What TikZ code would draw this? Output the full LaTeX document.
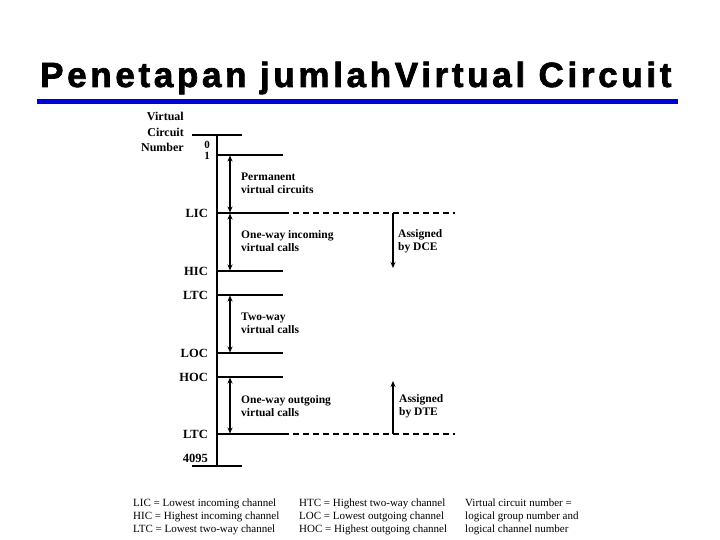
\documentclass[tikz,border=0pt]{standalone}
\usepackage{fontspec}
\setmainfont{Liberation Serif}
\newfontfamily\titlefont[LetterSpace=10.5,FakeBold=2]{Liberation Sans Bold}
\usetikzlibrary{arrows.meta, positioning}

\begin{document}
\begin{tikzpicture}[
    x=1pt, y=-1pt,
    axis/.style={line width=2.6pt},
    tick/.style={line width=1.6pt},
    guide/.style={line width=1.6pt, dash pattern=on 6pt off 4pt},
    span/.style={{Stealth[length=6pt,width=5pt]}-{Stealth[length=6pt,width=5pt]}, line width=1.3pt, shorten >=0.5pt, shorten <=0.5pt},
    assign/.style={-{Stealth[length=6pt,width=5pt]}, line width=1.3pt},
    num/.style={font=\bfseries\fontsize{12.5}{14}\selectfont, anchor=east, inner sep=0pt},
    desc/.style={font=\bfseries\fontsize{11.5}{13}\selectfont, align=left, anchor=west, inner sep=0pt},
    legend/.style={font=\fontsize{11}{13}\selectfont, align=left, anchor=base west, inner sep=0pt}
  ]
  \useasboundingbox (0,0) rectangle (720,540);

  % title and rule
  \node[anchor=base west, inner sep=0pt, font=\titlefont\fontsize{35}{40}\selectfont] (title) at (40,87) {Penetapan jumlahVirtual Circuit};
  \coordinate (ruleL) at (37,102);
  \coordinate (ruleR) at (678,102);
  \draw[line width=5pt, blue!85!black] (ruleL) -- (ruleR);

  % axis
  \coordinate (top) at (217,135);
  \coordinate (bot) at (217,466);
  \draw[axis] (top) -- (bot);
  \draw[tick] (192,135) -- (top) -- (242,135);
  \draw[tick] (192,466) -- (bot) -- (242,466);

  % channel levels
  \foreach \name/\y in {one/155, lic/213, hic/271, ltc/295, loc/353, hoc/377, htc/434} {
    \coordinate (\name) at (217,\y);
    \coordinate (\name-a) at (230,\y);
    \coordinate (\name-e) at (283,\y);
    \draw[tick] (\name) -- (\name-e);
  }
  \coordinate (lic-d) at (455,213);
  \coordinate (htc-d) at (455,434);
  \draw[guide] (lic-e) -- (lic-d);
  \draw[guide] (htc-e) -- (htc-d);

  % labels on the left
  \node[font=\bfseries\fontsize{12}{15.5}\selectfont, align=right, anchor=east, inner sep=0pt] (vcn) at (184,132) {Virtual\\Circuit\\Number};
  \node[font=\bfseries\fontsize{11}{11}\selectfont, align=center, anchor=east, inner sep=0pt] (zero) at (210,150) {0\\1};
  \node[num] (lbl-lic) at (208,213) {LIC};
  \node[num] (lbl-hic) at (208,271) {HIC};
  \node[num] (lbl-ltc) at (208,295) {LTC};
  \node[num] (lbl-loc) at (208,353) {LOC};
  \node[num] (lbl-hoc) at (208,377) {HOC};
  \node[num] (lbl-htc) at (208,434) {LTC};
  \node[num] (lbl-end) at (208,458) {4095};

  % ranges
  \draw[span] (one-a) -- (lic-a);
  \draw[span] (lic-a) -- (hic-a);
  \draw[span] (ltc-a) -- (loc-a);
  \draw[span] (hoc-a) -- (htc-a);

  \node[desc] (perm) at (241,183) {Permanent\\virtual circuits};
  \node[desc] (inc) at (241,241) {One-way incoming\\virtual calls};
  \node[desc] (two) at (241,323) {Two-way\\virtual calls};
  \node[desc] (out) at (241,406) {One-way outgoing\\virtual calls};

  % assignment
  \coordinate (dce-s) at (393,213);
  \coordinate (dce-e) at (393,268);
  \coordinate (dte-s) at (393,434);
  \coordinate (dte-e) at (393,381);
  \draw[assign] (dce-s) -- (dce-e);
  \draw[assign] (dte-s) -- (dte-e);
  \node[desc] (dce) at (398,241) {Assigned\\by DCE};
  \node[desc] (dte) at (399,406) {Assigned\\by DTE};

  % legend
  \node[legend] (leg1) at (133,532) {LIC = Lowest incoming channel\\HIC = Highest incoming channel\\LTC = Lowest two-way channel};
  \node[legend] (leg2) at (299,532) {HTC = Highest two-way channel\\LOC = Lowest outgoing channel\\HOC = Highest outgoing channel};
  \node[legend] (leg3) at (465,532) {Virtual circuit number =\\logical group number and\\logical channel number};
\end{tikzpicture}
\end{document}
